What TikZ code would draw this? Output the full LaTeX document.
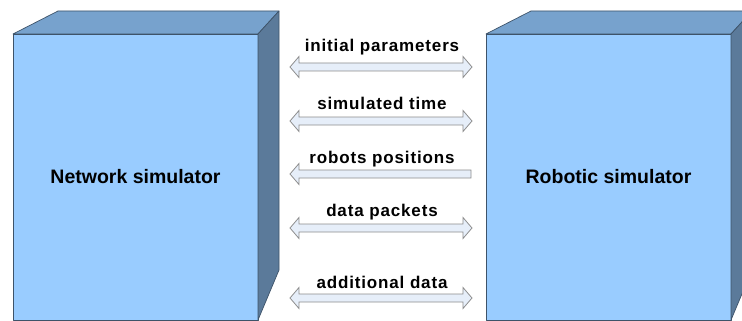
\documentclass[tikz,border=0pt]{standalone}
\usepackage{fontspec}
\setmainfont{Liberation Sans}
\newfontfamily\lblfont[LetterSpace=5]{Liberation Sans}
\definecolor{frontc}{HTML}{99CCFF}
\definecolor{topc}{HTML}{77A2CD}
\definecolor{sidec}{HTML}{5B7A9A}
\definecolor{edgec}{HTML}{3E5369}
\definecolor{arrfill}{HTML}{E6EEF9}
\definecolor{arredge}{HTML}{8C8C8C}
\begin{document}
\begin{tikzpicture}[x=1pt,y=-1pt,
  face/.style={draw=edgec,line width=0.7pt,line join=round},
  arr/.style={draw=arredge,fill=arrfill,line width=0.8pt,line join=miter},
  boxlabel/.style={font=\bfseries\fontsize{19.5}{22}\selectfont,text=black},
  arrlabel/.style={font=\lblfont\bfseries\fontsize{17}{19}\selectfont,text=black,anchor=base,inner sep=0pt}]
\useasboundingbox (0,0) rectangle (742,321);
\clip (0,0) rectangle (742,321);
% left box
\begin{scope}
\fill[frontc,face] (13,34) rectangle (258,320);
\fill[topc,face] (13,34) -- (58,11) -- (279,11) -- (258,34) -- cycle;
\fill[sidec,face] (258,34) -- (279,11) -- (279,270) -- (258,320) -- cycle;
\node[boxlabel] (net) at (135.5,177) {Network simulator};
\end{scope}
% right box
\begin{scope}[xshift=473pt]
\fill[frontc,face] (13,34) rectangle (258,320);
\fill[topc,face] (13,34) -- (58,11) -- (279,11) -- (258,34) -- cycle;
\fill[sidec,face] (258,34) -- (279,11) -- (279,270) -- (258,320) -- cycle;
\node[boxlabel] (rob) at (135.5,177) {Robotic simulator};
\end{scope}
% double arrows
\foreach \cy in {67,121,228,298}{
  \filldraw[arr] (290,\cy) -- (299,\cy-10.5) -- (299,\cy-4) -- (463,\cy-4) -- (463,\cy-10.5)
    -- (472,\cy) -- (463,\cy+10.5) -- (463,\cy+4) -- (299,\cy+4) -- (299,\cy+10.5) -- cycle;
}
% single left arrow
\filldraw[arr] (290,174) -- (299,163.5) -- (299,170) -- (471,170) -- (471,178)
  -- (299,178) -- (299,184.5) -- cycle;
% labels
\node[arrlabel] (l1) at (382,52) {initial parameters};
\node[arrlabel] (l2) at (382,110) {simulated time};
\node[arrlabel] (l3) at (382,163) {robots positions};
\node[arrlabel] (l4) at (382,216) {data packets};
\node[arrlabel] (l5) at (382,288) {additional data};
\end{tikzpicture}
\end{document}
